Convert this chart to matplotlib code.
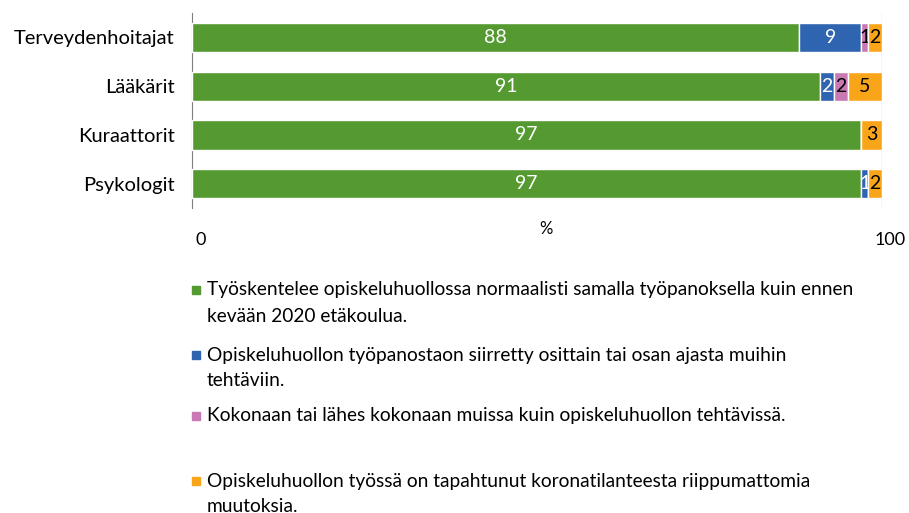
import numpy as np
import matplotlib.pyplot as plt
import matplotlib.transforms as mtransforms
from matplotlib.patches import Rectangle

plt.rcParams['font.family'] = ['Lato', 'DejaVu Sans']

groups = ['Terveydenhoitajat', 'Lääkärit', 'Kuraattorit', 'Psykologit']
normal = [88, 91, 97, 97]
partly = [9, 2, 0, 1]
mostly = [1, 2, 0, 0]
changes = [2, 5, 3, 2]

series_names = [
    ['Työskentelee opiskeluhuollossa normaalisti samalla työpanoksella kuin ennen',
     'kevään 2020 etäkoulua.'],
    ['Opiskeluhuollon työpanostaon siirretty osittain tai osan ajasta muihin',
     'tehtäviin.'],
    ['Kokonaan tai lähes kokonaan muissa kuin opiskeluhuollon tehtävissä.'],
    ['Opiskeluhuollon työssä on tapahtunut koronatilanteesta riippumattomia',
     'muutoksia.'],
]
colors = ['#559A30', '#2F64B0', '#C879B4', '#F9A51A']
label_colors = ['white', 'white', 'black', 'black']

W, H = 909, 513
fig = plt.figure(figsize=(W / 100, H / 100), dpi=100)
ax = fig.add_axes([192 / W, 1 - 208 / H, 690 / W, 195 / H])

y = np.arange(len(groups))
left = np.zeros(len(groups))
for vals, col, lc in zip([normal, partly, mostly, changes], colors, label_colors):
    vals = np.array(vals, dtype=float)
    bars = ax.barh(y, vals, left=left, height=0.6, color=col,
                   edgecolor='white', linewidth=1, zorder=3)
    labels = [str(int(v)) if v > 0 else '' for v in vals]
    ax.bar_label(bars, labels=labels, label_type='center', color=lc,
                 fontsize=14)
    left += vals

ax.set_xlim(0, 100)
ax.set_ylim(3.5, -0.5)
ax.set_yticks(y)
ax.set_yticklabels(groups, fontsize=14.5)
ax.set_xticks([0, 100])
ax.set_xticklabels(['0', '100'], fontsize=13)
ax.tick_params(axis='x', length=0, pad=17)
ax.tick_params(axis='y', length=0, pad=12.5)
shift = mtransforms.ScaledTranslation(6 / 72, 0, fig.dpi_scale_trans)
for t in ax.get_xticklabels():
    t.set_transform(t.get_transform() + shift)
ax.axvline(100, color='#d9d9d9', lw=1, zorder=1)
for s in ['top', 'right', 'bottom']:
    ax.spines[s].set_visible(False)
ax.spines['left'].set_color('#7f7f7f')
fig.text(546 / W, 1 - 229 / H, '%', ha='center', va='center', fontsize=12)

# legend
item_tops = [290, 355, 416, 481]
for lines, col, top in zip(series_names, colors, item_tops):
    yy = 1 - top / H
    fig.patches.append(Rectangle((192 / W, yy - 4 / H), 8 / W, 8 / H,
                                 transform=fig.transFigure, color=col))
    for i, line in enumerate(lines):
        fig.text(207 / W, 1 - (top + 26 * i) / H, line, fontsize=13.8,
                 va='center', ha='left')

fig.savefig('out.png', dpi=100)
